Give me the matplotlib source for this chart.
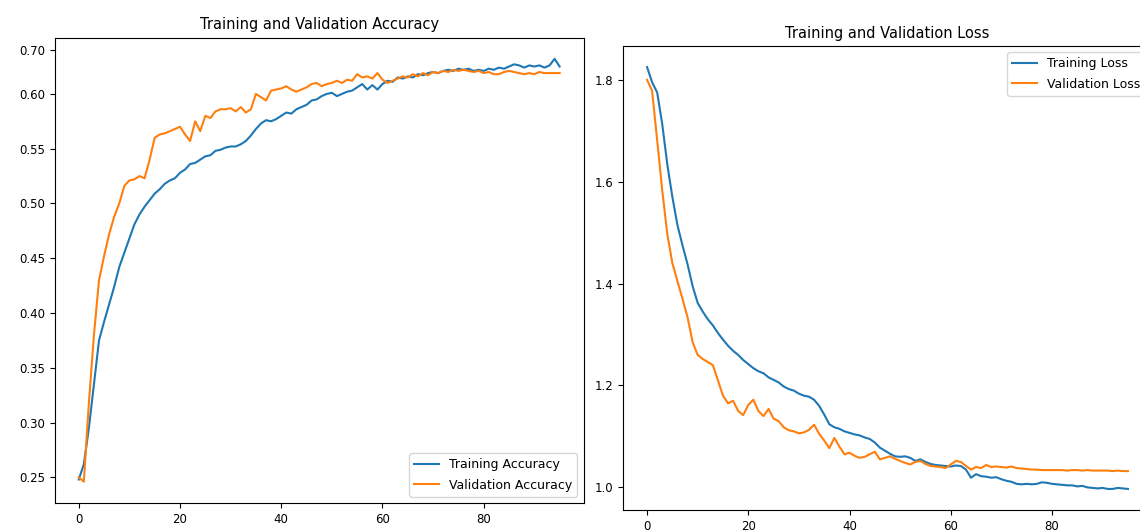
import numpy as np
import matplotlib
matplotlib.use("Agg")
import matplotlib.pyplot as plt

plt.rcParams['font.family'] = ['DejaVu Sans']

"""
Data read from the reference (96 epochs)
"""

train_acc = [0.248, 0.262, 0.295, 0.335, 0.375, 0.392, 0.408, 0.424, 0.442, 0.455,
             0.468, 0.481, 0.490, 0.497, 0.503, 0.509, 0.513, 0.518, 0.521, 0.523,
             0.528, 0.531, 0.536, 0.537, 0.540, 0.543, 0.544, 0.548, 0.549, 0.551,
             0.552, 0.552, 0.554, 0.557, 0.562, 0.568, 0.573, 0.576, 0.575, 0.577,
             0.580, 0.583, 0.582, 0.586, 0.588, 0.590, 0.594, 0.595, 0.598, 0.600,
             0.601, 0.598, 0.600, 0.602, 0.603, 0.606, 0.609, 0.604, 0.608, 0.604,
             0.609, 0.612, 0.611, 0.615, 0.614, 0.616, 0.615, 0.618, 0.617, 0.619,
             0.620, 0.619, 0.621, 0.622, 0.621, 0.623, 0.622, 0.623, 0.621, 0.622,
             0.621, 0.623, 0.622, 0.624, 0.623, 0.625, 0.627, 0.626, 0.624, 0.626,
             0.625, 0.626, 0.624, 0.626, 0.632, 0.625]

val_acc = [0.250, 0.246, 0.318, 0.380, 0.430, 0.452, 0.472, 0.488, 0.500, 0.516,
           0.521, 0.522, 0.525, 0.523, 0.540, 0.560, 0.563, 0.564, 0.566, 0.568,
           0.570, 0.563, 0.557, 0.575, 0.566, 0.580, 0.578, 0.584, 0.586, 0.586,
           0.587, 0.584, 0.588, 0.583, 0.586, 0.600, 0.597, 0.594, 0.603, 0.604,
           0.605, 0.607, 0.604, 0.602, 0.604, 0.606, 0.609, 0.610, 0.607, 0.609,
           0.610, 0.612, 0.610, 0.613, 0.612, 0.618, 0.615, 0.616, 0.614, 0.619,
           0.613, 0.610, 0.612, 0.614, 0.616, 0.615, 0.618, 0.616, 0.619, 0.617,
           0.620, 0.619, 0.621, 0.620, 0.622, 0.621, 0.622, 0.621, 0.620, 0.621,
           0.619, 0.620, 0.618, 0.618, 0.620, 0.621, 0.620, 0.619, 0.618, 0.619,
           0.618, 0.620, 0.619, 0.619, 0.619, 0.619]

train_loss = [1.825, 1.795, 1.775, 1.713, 1.634, 1.570, 1.515, 1.475, 1.438, 1.395,
              1.362, 1.345, 1.330, 1.318, 1.303, 1.290, 1.278, 1.268, 1.260, 1.250,
              1.242, 1.234, 1.228, 1.224, 1.216, 1.211, 1.206, 1.198, 1.193, 1.190,
              1.184, 1.180, 1.178, 1.172, 1.160, 1.143, 1.124, 1.118, 1.115, 1.110,
              1.107, 1.104, 1.102, 1.098, 1.095, 1.088, 1.078, 1.072, 1.066, 1.061,
              1.060, 1.061, 1.058, 1.052, 1.055, 1.050, 1.046, 1.044, 1.043, 1.042,
              1.041, 1.043, 1.042, 1.035, 1.019, 1.026, 1.022, 1.021, 1.019, 1.020,
              1.016, 1.013, 1.011, 1.007, 1.006, 1.007, 1.006, 1.007, 1.010, 1.009,
              1.007, 1.006, 1.005, 1.004, 1.004, 1.002, 1.003, 1.000, 0.999, 0.998,
              0.999, 0.997, 0.997, 0.999, 0.998, 0.997]

val_loss = [1.800, 1.778, 1.681, 1.583, 1.497, 1.440, 1.405, 1.370, 1.334, 1.285,
            1.260, 1.252, 1.246, 1.240, 1.210, 1.180, 1.165, 1.170, 1.150, 1.142,
            1.162, 1.172, 1.150, 1.140, 1.154, 1.135, 1.130, 1.118, 1.112, 1.110,
            1.106, 1.108, 1.113, 1.123, 1.105, 1.092, 1.077, 1.097, 1.080, 1.065,
            1.068, 1.062, 1.058, 1.060, 1.065, 1.070, 1.055, 1.058, 1.061, 1.056,
            1.052, 1.048, 1.045, 1.050, 1.052, 1.046, 1.042, 1.041, 1.040, 1.038,
            1.045, 1.052, 1.050, 1.042, 1.035, 1.040, 1.038, 1.044, 1.040, 1.041,
            1.040, 1.039, 1.041, 1.038, 1.037, 1.036, 1.035, 1.035, 1.034, 1.034,
            1.034, 1.034, 1.034, 1.033, 1.034, 1.034, 1.033, 1.034, 1.033, 1.033,
            1.033, 1.033, 1.032, 1.033, 1.032, 1.032]

epochs_range = range(len(train_acc))

acc_ticks = [0.25, 0.30, 0.35, 0.40, 0.45, 0.50, 0.55, 0.60, 0.64]
acc_ticklabels = ['0.25', '0.30', '0.35', '0.40', '0.45', '0.50', '0.55', '0.60', '0.70']


"""
Plot
"""

fig = plt.figure(figsize=(11.4, 5.31), dpi=100)

ax1 = fig.add_axes([0.048, 0.053, 0.464, 0.876])
ax1.plot(epochs_range, train_acc, label='Training Accuracy')
ax1.plot(epochs_range, val_acc, label='Validation Accuracy')
ax1.set_yticks(acc_ticks)
ax1.set_yticklabels(acc_ticklabels)
ax1.set_xticks([0, 20, 40, 60, 80])
ax1.legend(loc='lower right', fontsize=9, labelspacing=0.6)
ax1.set_title('Training and Validation Accuracy', fontsize=10.5)
ax1.tick_params(labelsize=8.5)

ax2 = fig.add_axes([0.5465, 0.0395, 0.464, 0.874])
ax2.plot(epochs_range, train_loss, label='Training Loss')
ax2.plot(epochs_range, val_loss, label='Validation Loss')
ax2.set_yticks([1.0, 1.2, 1.4, 1.6, 1.8])
ax2.set_xticks([0, 20, 40, 60, 80])
ax2.legend(loc='upper right', fontsize=9, labelspacing=0.6)
ax2.set_title('Training and Validation Loss', fontsize=10.5)
ax2.tick_params(labelsize=8.5)

fig.savefig('out.png', dpi=100)
